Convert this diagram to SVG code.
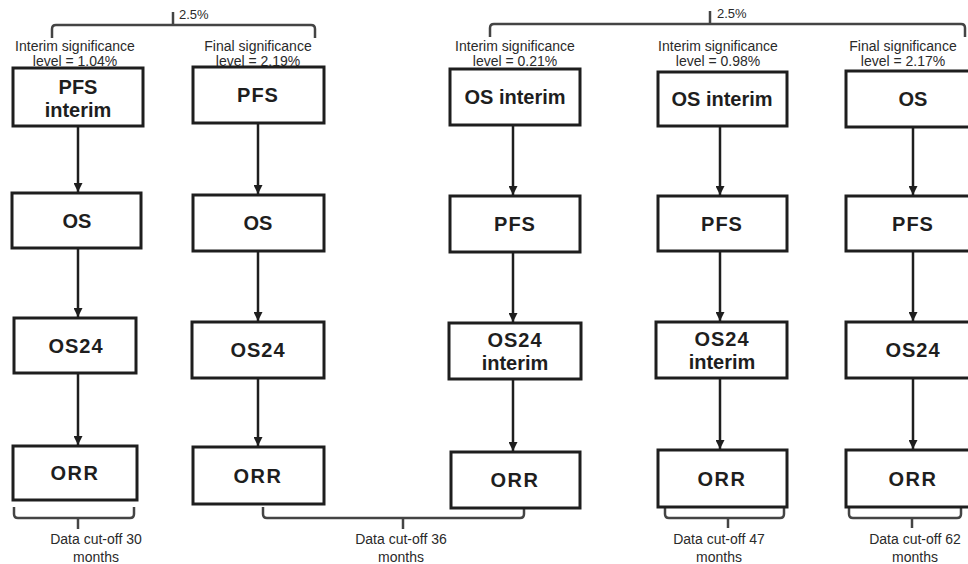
<svg xmlns="http://www.w3.org/2000/svg" width="968" height="564" viewBox="0 0 968 564">
<style>
.box{fill:#fff;stroke:#1e1e1e;stroke-width:3}
.bt{font-family:"Liberation Sans",Arial,sans-serif;font-weight:bold;font-size:20px;fill:#1e1e1e;text-anchor:middle}
.lt{font-family:"Liberation Sans",Arial,sans-serif;font-size:14px;fill:#2a2a2a;text-anchor:middle}
.pt{font-family:"Liberation Sans",Arial,sans-serif;font-size:13px;fill:#2a2a2a}
.ar{fill:none;stroke:#1e1e1e;stroke-width:2.5;marker-end:url(#ah)}
.br{fill:none;stroke:#444;stroke-width:2.5;stroke-linejoin:round}
</style>
<defs>
<marker id="ah" viewBox="0 0 10 10" refX="10" refY="5" markerWidth="3.6" markerHeight="3.6" orient="auto" markerUnits="strokeWidth">
<path d="M0,0 L10,5 L0,10 Z" fill="#1e1e1e"/>
</marker>
</defs>
<rect width="968" height="564" fill="#fff"/>

<g id="labels">
<text class="lt" x="75" y="51">Interim significance</text>
<text class="lt" x="75" y="66">level = 1.04%</text>
<text class="lt" x="258" y="51">Final significance</text>
<text class="lt" x="258" y="66">level = 2.19%</text>
<text class="lt" x="515" y="51">Interim significance</text>
<text class="lt" x="515" y="66">level = 0.21%</text>
<text class="lt" x="718" y="51">Interim significance</text>
<text class="lt" x="718" y="66">level = 0.98%</text>
<text class="lt" x="903" y="51">Final significance</text>
<text class="lt" x="903" y="66">level = 2.17%</text>
<text class="pt" x="179" y="19">2.5%</text>
<text class="pt" x="717" y="18">2.5%</text>
<text class="lt" x="96" y="544">Data cut-off 30</text>
<text class="lt" x="96" y="562">months</text>
<text class="lt" x="401" y="544">Data cut-off 36</text>
<text class="lt" x="401" y="562">months</text>
<text class="lt" x="719" y="544">Data cut-off 47</text>
<text class="lt" x="719" y="562">months</text>
<text class="lt" x="915" y="544">Data cut-off 62</text>
<text class="lt" x="915" y="562">months</text>
</g>

<g id="brackets">
<path class="br" d="M52,38 V29 Q52,25 56,25 H311 Q315,25 315,29 V38"/>
<path class="br" d="M173,25 V12"/>
<path class="br" d="M490,37 V28 Q490,24 494,24 H961 Q965,24 965,28 V37"/>
<path class="br" d="M710,24 V11"/>
<path class="br" d="M14,507 V514 Q14,518 18,518 H130 Q134,518 134,514 V507"/>
<path class="br" d="M78,518 V529"/>
<path class="br" d="M263,507 V514 Q263,518 267,518 H520 Q524,518 524,514 V509"/>
<path class="br" d="M403,518 V529"/>
<path class="br" d="M665,508 V514 Q665,518 669,518 H780 Q784,518 784,514 V508"/>
<path class="br" d="M728,518 V528"/>
<path class="br" d="M849,508 V514 Q849,518 853,518 H957 Q961,518 961,514 V508"/>
<path class="br" d="M912,518 V528"/>
</g>

<g id="connectors">
<path class="ar" d="M78,127 V192"/>
<path class="ar" d="M78,249 V317"/>
<path class="ar" d="M78,374 V445"/>
<path class="ar" d="M258,124 V194"/>
<path class="ar" d="M258,252 V321"/>
<path class="ar" d="M258,379 V446"/>
<path class="ar" d="M513,126 V195"/>
<path class="ar" d="M513,253 V322"/>
<path class="ar" d="M513,380 V451"/>
<path class="ar" d="M720,127 V195"/>
<path class="ar" d="M720,252 V321"/>
<path class="ar" d="M720,379 V449"/>
<path class="ar" d="M913,128 V195"/>
<path class="ar" d="M913,252 V321"/>
<path class="ar" d="M913,379 V449"/>
</g>

<g id="c1-pfs-interim"><rect class="box" x="13" y="68" width="130" height="58"/><text class="bt" x="78" y="94">PFS</text><text class="bt" x="78" y="117">interim</text></g>
<g id="c1-os"><rect class="box" x="12" y="193" width="129" height="55"/><text class="bt" x="77" y="228">OS</text></g>
<g id="c1-os24"><rect class="box" x="14" y="318" width="122" height="55"/><text class="bt" x="76" y="353" letter-spacing="1">OS24</text></g>
<g id="c1-orr"><rect class="box" x="13" y="446" width="124" height="54"/><text class="bt" x="75" y="480" letter-spacing="1.5">ORR</text></g>

<g id="c2-pfs"><rect class="box" x="193" y="67" width="131" height="56"/><text class="bt" x="258" y="102" letter-spacing="1">PFS</text></g>
<g id="c2-os"><rect class="box" x="193" y="195" width="131" height="56"/><text class="bt" x="258" y="230">OS</text></g>
<g id="c2-os24"><rect class="box" x="192" y="322" width="132" height="56"/><text class="bt" x="258" y="357" letter-spacing="1">OS24</text></g>
<g id="c2-orr"><rect class="box" x="193" y="447" width="131" height="57"/><text class="bt" x="258" y="483" letter-spacing="1.5">ORR</text></g>

<g id="c3-os-interim"><rect class="box" x="450" y="69" width="130" height="56"/><text class="bt" x="515" y="104">OS interim</text></g>
<g id="c3-pfs"><rect class="box" x="450" y="196" width="130" height="56"/><text class="bt" x="515" y="231" letter-spacing="1">PFS</text></g>
<g id="c3-os24-interim"><rect class="box" x="449" y="323" width="132" height="56"/><text class="bt" x="515" y="347" letter-spacing="1">OS24</text><text class="bt" x="515" y="370">interim</text></g>
<g id="c3-orr"><rect class="box" x="451" y="452" width="129" height="56"/><text class="bt" x="515" y="487" letter-spacing="1.5">ORR</text></g>

<g id="c4-os-interim"><rect class="box" x="658" y="72" width="129" height="54"/><text class="bt" x="722" y="106">OS interim</text></g>
<g id="c4-pfs"><rect class="box" x="658" y="196" width="129" height="55"/><text class="bt" x="722" y="231" letter-spacing="1">PFS</text></g>
<g id="c4-os24-interim"><rect class="box" x="656" y="322" width="131" height="56"/><text class="bt" x="722" y="346" letter-spacing="1">OS24</text><text class="bt" x="722" y="369">interim</text></g>
<g id="c4-orr"><rect class="box" x="658" y="450" width="129" height="57"/><text class="bt" x="722" y="486" letter-spacing="1.5">ORR</text></g>

<g id="c5-os"><rect class="box" x="846" y="71" width="134" height="56"/><text class="bt" x="913" y="106">OS</text></g>
<g id="c5-pfs"><rect class="box" x="846" y="196" width="134" height="55"/><text class="bt" x="913" y="231" letter-spacing="1">PFS</text></g>
<g id="c5-os24"><rect class="box" x="846" y="322" width="134" height="56"/><text class="bt" x="913" y="357" letter-spacing="1">OS24</text></g>
<g id="c5-orr"><rect class="box" x="846" y="450" width="134" height="57"/><text class="bt" x="913" y="486" letter-spacing="1.5">ORR</text></g>
</svg>
